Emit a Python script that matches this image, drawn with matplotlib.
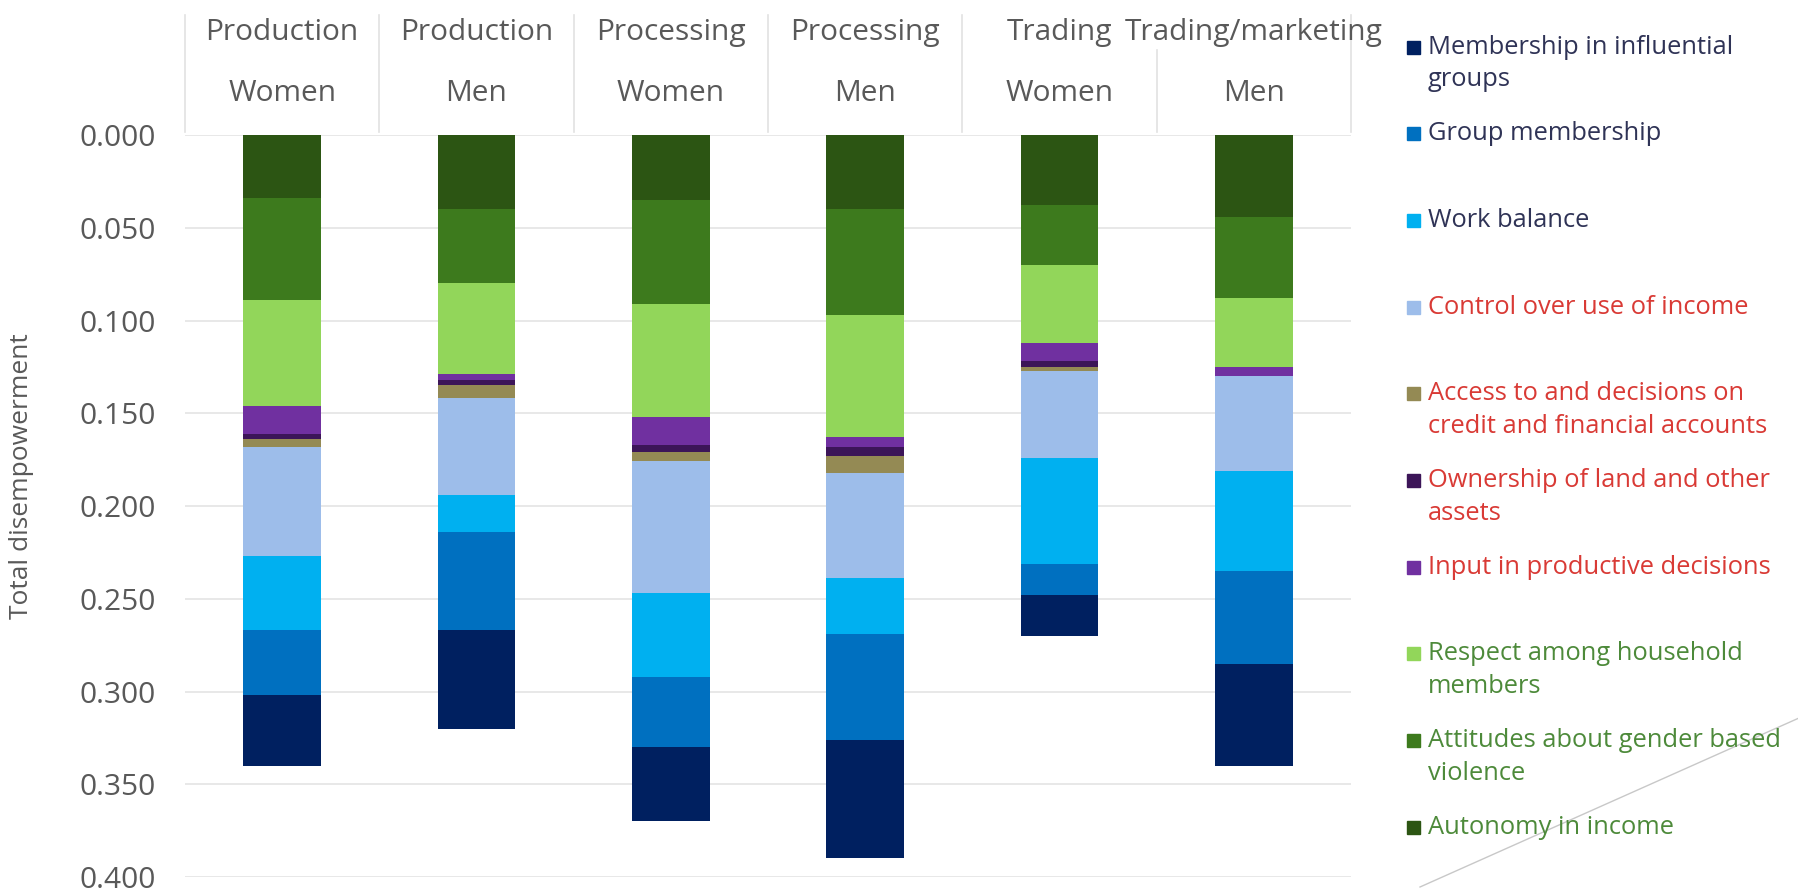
import matplotlib
matplotlib.use("Agg")
import matplotlib.pyplot as plt
import numpy as np
from matplotlib.patches import Rectangle
from matplotlib.lines import Line2D

# groupes (deux niveaux de catégories)
activity = ["Production", "Production", "Processing", "Processing", "Trading", "Trading/marketing"]
sex = ["Women", "Men", "Women", "Men", "Women", "Men"]

# contributions au désempowerment, empilées du haut vers le bas
autonomy   = [0.034, 0.040, 0.035, 0.040, 0.038, 0.044]
attitudes  = [0.055, 0.040, 0.056, 0.057, 0.032, 0.044]
respect    = [0.057, 0.049, 0.061, 0.066, 0.042, 0.037]
input_dec  = [0.015, 0.003, 0.015, 0.005, 0.010, 0.005]
ownership  = [0.003, 0.003, 0.004, 0.005, 0.003, 0.000]
access     = [0.004, 0.007, 0.005, 0.009, 0.002, 0.000]
control    = [0.059, 0.052, 0.071, 0.057, 0.047, 0.051]
work       = [0.040, 0.020, 0.045, 0.030, 0.057, 0.054]
group      = [0.035, 0.053, 0.038, 0.057, 0.017, 0.050]
membership = [0.038, 0.053, 0.040, 0.064, 0.022, 0.055]

series = [autonomy, attitudes, respect, input_dec, ownership, access,
          control, work, group, membership]
names = ["Autonomy in income", "Attitudes about gender based\nviolence",
         "Respect among household\nmembers", "Input in productive decisions",
         "Ownership of land and other\nassets",
         "Access to and decisions on\ncredit and financial accounts",
         "Control over use of income", "Work balance", "Group membership",
         "Membership in influential\ngroups"]
colors = ["#2c5513", "#3d7a1d", "#92d65a", "#7030a0", "#3c1558", "#948a54",
          "#9dbdea", "#00b0f0", "#0070c0", "#002060"]
text_col = ["#4d8a3a", "#4d8a3a", "#4d8a3a", "#d93a35", "#d93a35", "#d93a35",
            "#d93a35", "#2f3356", "#2f3356", "#2f3356"]

W, H = 1799, 890
fig = plt.figure(figsize=(W / 100, H / 100), dpi=100)
plt.rcParams['font.family'] = ['Open Sans', 'DejaVu Sans']
ax = fig.add_axes([185 / W, 1 - 877 / H, (1351 - 185) / W, (877 - 135) / H])

x = np.arange(len(sex))
bottom = np.zeros(len(sex))
for vals, c in zip(series, colors):
    ax.bar(x, vals, 0.4, bottom=bottom, color=c, zorder=3)
    bottom += np.array(vals)

ax.set_xlim(-0.5, 5.5)
ax.set_ylim(0.4, 0)
ax.set_yticks(np.arange(0, 0.401, 0.05))
ax.set_yticklabels([f"{v:.3f}" for v in np.arange(0, 0.401, 0.05)])
ax.set_xticks([])
ax.grid(axis='y', color='#e6e6e6', lw=1.3, zorder=0)
ax.tick_params(axis='y', length=0, labelsize=21.5, labelcolor='#595959', pad=21)
for s in ax.spines.values():
    s.set_visible(False)
ax.set_ylabel("Total disempowerment", fontsize=19, color='#595959')
ax.yaxis.set_label_coords(-0.1295, 0.54)

# en-têtes de catégories au-dessus du graphique
hdr = ax.get_xaxis_transform()
for i in range(len(sex)):
    ax.text(i, 1.1375, activity[i], transform=hdr, ha='center', va='center',
            fontsize=21.5, color='#595959', clip_on=False)
    ax.text(i, 1.0553, sex[i], transform=hdr, ha='center', va='center',
            fontsize=21.5, color='#595959', clip_on=False)
for k in range(7):
    ytop = 1.1146 if k == 5 else 1.1617
    ax.add_line(Line2D([k - 0.5, k - 0.5], [1.004, ytop], transform=hdr,
                       color='#e2e2e2', lw=1.2, clip_on=False))

# légende dessinée à la main, entrées espacées régulièrement
for j in range(len(names)):
    i = len(names) - 1 - j
    yc = 47 + 86.7 * j
    fig.add_artist(Rectangle((1407 / W, 1 - (yc + 6.5) / H), 13 / W, 13 / H,
                             transform=fig.transFigure, color=colors[i]))
    for k, line in enumerate(names[i].split("\n")):
        fig.text(1428 / W, 1 - (yc + 33 * k) / H, line, ha='left', va='center',
                 fontsize=18.4, color=text_col[i])

fig.add_artist(Line2D([1420 / W, 1.0], [1 - 887 / H, 1 - 718 / H],
                      transform=fig.transFigure, color='#c8c8c8', lw=1))

fig.savefig("out.png", dpi=100, facecolor='white')
